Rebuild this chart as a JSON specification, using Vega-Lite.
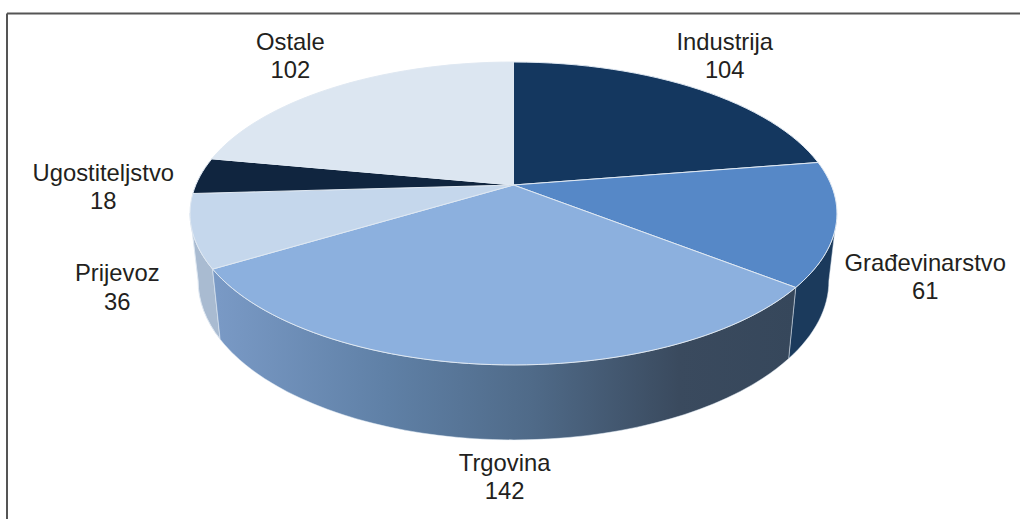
{
"$schema":"https://vega.github.io/schema/vega-lite/v6.json",
"width":1013.5,"height":506,
"autosize":"none",
"padding":{"left":6.5,"top":13,"right":0,"bottom":0},
"background":"#ffffff",
"config":{"view":{"stroke":null}},
"data":{"values":[
{"category":"Industrija","value":104},
{"category":"Građevinarstvo","value":61},
{"category":"Trgovina","value":142},
{"category":"Prijevoz","value":36},
{"category":"Ugostiteljstvo","value":18},
{"category":"Ostale","value":102}
]},
"transform":[
{"joinaggregate":[{"op":"sum","field":"value","as":"total"}]},
{"window":[{"op":"sum","field":"value","as":"cum"}],"ignorePeers":true},
{"calculate":"2*PI*(datum.cum-datum.value)/datum.total","as":"a0"},
{"calculate":"2*PI*datum.cum/datum.total","as":"a1"},
{"calculate":"(datum.a0+datum.a1)/2","as":"am"},
{"calculate":"round(31770*sin(datum.a0)/(1+0.188*cos(datum.a0)))/100","as":"x0"},
{"calculate":"round(-14610*cos(datum.a0)/(1+0.188*cos(datum.a0)))/100","as":"y0"},
{"calculate":"round(31770*sin(datum.a1)/(1+0.188*cos(datum.a1)))/100","as":"x1"},
{"calculate":"round(-14610*cos(datum.a1)/(1+0.188*cos(datum.a1)))/100","as":"y1"},
{"calculate":"'M0,0L'+datum.x0+','+datum.y0+'A323.5,151.5 0 0 1 '+datum.x1+','+datum.y1+'Z'","as":"slice"},
{"calculate":"max(datum.a0,1.7587)","as":"w0"},
{"calculate":"min(datum.a1,4.5245)","as":"w1"},
{"calculate":"round(31770*sin(datum.w0)/(1+0.188*cos(datum.w0)))/100","as":"wx0"},
{"calculate":"round(-14610*cos(datum.w0)/(1+0.188*cos(datum.w0)))/100","as":"wy0"},
{"calculate":"round(31770*sin(datum.w1)/(1+0.188*cos(datum.w1)))/100","as":"wx1"},
{"calculate":"round(-14610*cos(datum.w1)/(1+0.188*cos(datum.w1)))/100","as":"wy1"},
{"calculate":"'M'+datum.wx0+','+datum.wy0+'A323.5,151.5 0 0 1 '+datum.wx1+','+datum.wy1+'L'+(0.975*datum.wx1)+','+(66+1.05*datum.wy1)+'A315.4,159 0 0 0 '+(0.975*datum.wx0)+','+(66+1.05*datum.wy0)+'Z'","as":"wall"},
{"calculate":"317.7*sin(datum.am)/(1+0.188*cos(datum.am))+{'Industrija':31,'Građevinarstvo':89,'Trgovina':15,'Prijevoz':-75,'Ugostiteljstvo':-97,'Ostale':-46}[datum.category]","as":"lx"},
{"calculate":"-146.1*cos(datum.am)/(1+0.188*cos(datum.am))+{'Industrija':-45,'Građevinarstvo':40,'Trgovina':99,'Prijevoz':43,'Ugostiteljstvo':-2,'Ostale':-44}[datum.category]","as":"ly"},
{"calculate":"datum.category+'\\n'+datum.value","as":"label"}
],
"layer":[
{"transform":[{"filter":"datum.category==='Prijevoz'"}],
 "mark":{"type":"point","filled":true,"opacity":1,"size":4,"fill":"#a9bbd1","stroke":"#dfe8f2","strokeWidth":1},
 "encoding":{
  "x":{"datum":0,"type":"quantitative","scale":{"domain":[-507,506.5],"nice":false,"zero":false},"axis":{"orient":"top","labels":false,"ticks":false,"grid":false,"title":null,"domainColor":"#555555","domainWidth":2}},
  "y":{"datum":0,"type":"quantitative","scale":{"domain":[-172,334],"nice":false,"zero":false,"reverse":true},"axis":{"orient":"left","labels":false,"ticks":false,"grid":false,"title":null,"domainColor":"#555555","domainWidth":2}},
  "shape":{"field":"wall","type":"nominal","scale":null,"legend":null}}},
{"transform":[{"filter":"datum.category==='Građevinarstvo'"}],
 "mark":{"type":"point","filled":true,"opacity":1,"size":4,"fill":"#1b3a5c","stroke":"#dfe8f2","strokeWidth":0.5},
 "encoding":{
  "x":{"datum":0,"type":"quantitative","scale":{"domain":[-507,506.5],"nice":false,"zero":false},"axis":{"orient":"top","labels":false,"ticks":false,"grid":false,"title":null,"domainColor":"#555555","domainWidth":2}},
  "y":{"datum":0,"type":"quantitative","scale":{"domain":[-172,334],"nice":false,"zero":false,"reverse":true},"axis":{"orient":"left","labels":false,"ticks":false,"grid":false,"title":null,"domainColor":"#555555","domainWidth":2}},
  "shape":{"field":"wall","type":"nominal","scale":null,"legend":null}}},
{"transform":[{"filter":"datum.category==='Trgovina'"}],
 "mark":{"type":"point","filled":true,"opacity":1,"size":4,"stroke":"#dfe8f2","strokeWidth":0.5,
 "fill":{"gradient":"linear","x1":0,"y1":0,"x2":1,"y2":0,"stops":[
  {"offset":0,"color":"#7a9ac6"},{"offset":0.3,"color":"#5f80a6"},{"offset":0.55,"color":"#4f6a88"},{"offset":0.8,"color":"#3a4a5e"},{"offset":1,"color":"#36475b"}]}},
 "encoding":{
  "x":{"datum":0,"type":"quantitative","scale":{"domain":[-507,506.5],"nice":false,"zero":false},"axis":{"orient":"top","labels":false,"ticks":false,"grid":false,"title":null,"domainColor":"#555555","domainWidth":2}},
  "y":{"datum":0,"type":"quantitative","scale":{"domain":[-172,334],"nice":false,"zero":false,"reverse":true},"axis":{"orient":"left","labels":false,"ticks":false,"grid":false,"title":null,"domainColor":"#555555","domainWidth":2}},
  "shape":{"field":"wall","type":"nominal","scale":null,"legend":null}}},
{"mark":{"type":"point","filled":true,"opacity":1,"size":4,"stroke":"#dfe8f2","strokeWidth":1},
 "encoding":{
  "x":{"datum":0,"type":"quantitative","scale":{"domain":[-507,506.5],"nice":false,"zero":false},"axis":{"orient":"top","labels":false,"ticks":false,"grid":false,"title":null,"domainColor":"#555555","domainWidth":2}},
  "y":{"datum":0,"type":"quantitative","scale":{"domain":[-172,334],"nice":false,"zero":false,"reverse":true},"axis":{"orient":"left","labels":false,"ticks":false,"grid":false,"title":null,"domainColor":"#555555","domainWidth":2}},
  "shape":{"field":"slice","type":"nominal","scale":null,"legend":null},
  "fill":{"field":"category","type":"nominal","legend":null,"scale":{
   "domain":["Industrija","Građevinarstvo","Trgovina","Prijevoz","Ugostiteljstvo","Ostale"],
   "range":["#14375f","#5688c7","#8cb0de","#c5d7ec","#10253f","#dce6f1"]}}}},
{"mark":{"type":"text","font":"Liberation Sans","fontSize":23.8,"color":"#231f20","lineBreak":"\n","lineHeight":28.5,"align":"center","baseline":"middle"},
 "encoding":{
  "x":{"field":"lx","type":"quantitative","scale":{"domain":[-507,506.5],"nice":false,"zero":false},"axis":{"orient":"top","labels":false,"ticks":false,"grid":false,"title":null,"domainColor":"#555555","domainWidth":2}},
  "y":{"field":"ly","type":"quantitative","scale":{"domain":[-172,334],"nice":false,"zero":false,"reverse":true},"axis":{"orient":"left","labels":false,"ticks":false,"grid":false,"title":null,"domainColor":"#555555","domainWidth":2}},
  "text":{"field":"label","type":"nominal"}}}
]
}
